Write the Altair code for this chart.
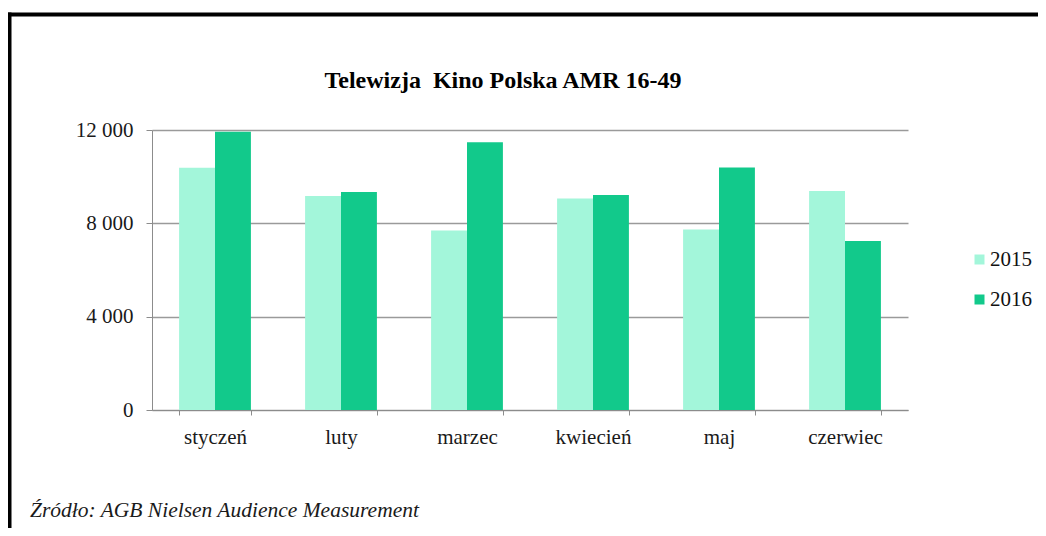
import altair as alt
import pandas as pd

months = ["styczeń", "luty", "marzec", "kwiecień", "maj", "czerwiec"]
years = ["2015", "2016"]
values_2015 = [10380, 9170, 7690, 9060, 7740, 9390]
values_2016 = [11930, 9340, 11470, 9210, 10390, 7240]
y_ticks = [0, 4000, 8000, 12000]
colors = ["#A3F6DA", "#12C98B"]

title_text = "Telewizja\u00a0 Kino Polska AMR 16-49"
source_text = "Źródło: AGB Nielsen Audience Measurement"

rows = []
for m, a, b in zip(months, values_2015, values_2016):
    rows.append({"miesiac": m, "rok": years[0], "wartosc": a})
    rows.append({"miesiac": m, "rok": years[1], "wartosc": b})
df = pd.DataFrame(rows)

SERIF = "Liberation Serif"
W, H = 756, 280

bars = alt.Chart(df).mark_bar().encode(
    x=alt.X(
        "miesiac:N",
        sort=months,
        title=None,
        scale=alt.Scale(paddingInner=0.43, paddingOuter=0.215),
        axis=alt.Axis(
            labelAngle=0,
            labelFont=SERIF,
            labelFontSize=21,
            labelColor="#1a1a1a",
            labelPadding=11,
            tickBand="extent",
            tickSize=5,
            tickColor="#8c8c8c",
            domainColor="#8c8c8c",
            grid=False,
        ),
    ),
    xOffset=alt.XOffset("rok:N", sort=years, scale=alt.Scale(paddingInner=0, paddingOuter=0)),
    y=alt.Y(
        "wartosc:Q",
        title=None,
        scale=alt.Scale(domain=[0, 12000], nice=False),
        axis=alt.Axis(
            values=y_ticks,
            labelExpr="replace(format(datum.value, ',d'), ',', ' ')",
            labelFont=SERIF,
            labelFontSize=21,
            labelColor="#1a1a1a",
            labelPadding=13,
            tickSize=6,
            tickColor="#8c8c8c",
            domainColor="#8c8c8c",
            gridColor="#9a9a9a",
            gridWidth=1.3,
        ),
    ),
    color=alt.Color(
        "rok:N",
        sort=years,
        scale=alt.Scale(domain=years, range=colors),
        legend=alt.Legend(
            title=None,
            orient="none",
            legendX=817,
            legendY=119,
            symbolType="square",
            symbolSize=100,
            symbolStrokeWidth=0,
            labelFont=SERIF,
            labelFontSize=21,
            labelColor="#111111",
            labelOffset=0,
            rowPadding=18,
        ),
    ),
)

one = alt.Data(values=[{"k": 1}])

frame_top = alt.Chart(one).mark_rule(color="#000000", strokeWidth=4).encode(
    x=alt.value(-160), x2=alt.value(1100), y=alt.value(-115.5)
)
frame_left = alt.Chart(one).mark_rule(color="#000000", strokeWidth=4).encode(
    x=alt.value(-142.5), y=alt.value(-117.5), y2=alt.value(420)
)
source = alt.Chart(one).mark_text(
    font=SERIF, fontSize=21.5, fontStyle="italic", align="left", baseline="alphabetic", color="#1a1a1a"
).encode(
    x=alt.value(-122), y=alt.value(387), text=alt.value(source_text)
)

chart = alt.layer(bars, frame_top, frame_left, source).properties(
    width=W,
    height=H,
    autosize=alt.AutoSizeParams(type="none"),
    padding={"left": 144, "top": 122, "right": 130, "bottom": 118},
    title=alt.TitleParams(
        title_text,
        font=SERIF,
        fontSize=24,
        fontWeight="bold",
        color="#000000",
        anchor="middle",
        dx=-27,
        dy=82,
        offset=0,
    ),
).configure(
    background="white",
    font=SERIF,
    view=alt.ViewConfig(stroke=None),
    legend=alt.LegendConfig(labelFont=SERIF, labelFontSize=21),
)

chart.save("out.html", embed_options={"renderer": "svg", "actions": False})
